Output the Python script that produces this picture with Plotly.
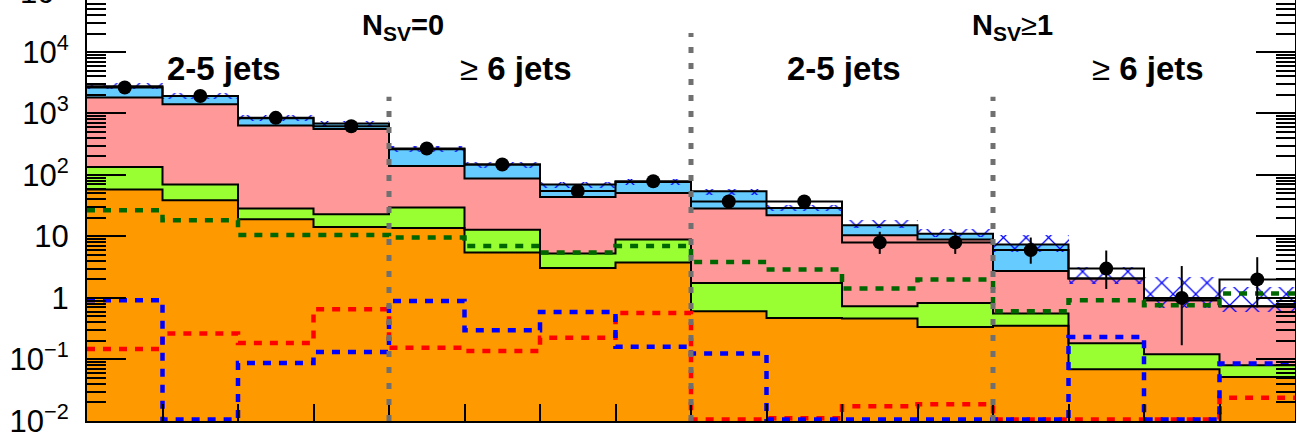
import numpy as np
import plotly.graph_objects as go

# ---------------- data ----------------
bin_index = list(range(16))
bin_edges = list(range(17))

# stacked backgrounds, bottom to top (events per bin)
bkg_orange = [57.9, 38.8, 19.1, 14.3, 13.7, 5.47, 3.07, 3.76, 0.608, 0.473, 0.462, 0.337, 0.351, 0.0693, 0.0693, 0.0519]
bkg_green = [77.0, 31.0, 9.35, 8.7, 15.8, 7.43, 2.20, 5.15, 1.14, 1.28, 0.271, 0.493, 0.206, 0.113, 0.0524, 0.0287]
bkg_pink = [1680, 1342, 607, 537, 110.5, 74.5, 38.6, 42.1, 26.65, 20.35, 9.77, 8.08, 2.19, 1.89, 0.796, 0.652]
bkg_blue = [953, 514, 200, 125, 122, 60.2, 25.9, 25.9, 25.9, 7.0, 4.7, 2.19, 4.63, 0.0, 0.0, 0.0]

# total background uncertainty (absolute, up / down)
bkg_unc_up = [330, 229, 99, 82, 31, 17.6, 8.3, 9.2, 5.8, 3.1, 3.1, 2.3, 3.1, 1.12, 1.27, 0.78]
bkg_unc_dn = [293, 204, 88, 73, 28, 15.6, 7.4, 8.1, 7.5, 3.4, 1.6, 1.28, 1.78, 0.36, 0.22, 0.14]

# observed data
data_obs = [2640, 1930, 850, 620, 270, 148, 55, 79, 37, 37, 8, 8, 6, 3, 1, 2]
data_err_up = [51, 44, 29, 25, 16.4, 12.2, 8.5, 9.9, 7.1, 7.1, 3.9, 3.9, 3.6, 2.9, 2.3, 2.6]
data_err_dn = [51, 44, 29, 25, 16.4, 12.2, 7.4, 8.9, 6.1, 6.1, 2.8, 2.8, 2.4, 1.6, 0.83, 1.3]

# signal overlays (not stacked)
sig_darkgreen = [26.7, 18.3, 10.6, 10.6, 9.6, 7.0, 5.47, 7.0, 3.85, 2.90, 1.42, 1.99, 0.608, 0.918, 0.760, 1.18]
sig_red = [0.147, 0.264, 0.185, 0.655, 0.154, 0.137, 0.224, 0.570, 0.0105, 0.011, 0.0173, 0.0187, 0.0105, 0.0105, 0.0105, 0.0237]
sig_blue = [0.918, 0.0105, 0.0877, 0.1325, 0.893, 0.299, 0.591, 0.160, 0.125, 0.0105, 0.0105, 0.0105, 0.0105, 0.232, 0.0105, 0.0857]

ytick_vals = [0.01, 0.1, 1, 10, 100, 1000, 10000]
ytick_text = ["10<sup>\u22122</sup>", "10<sup>\u22121</sup>", "1", "10", "10<sup>2</sup>", "10<sup>3</sup>", "10<sup>4</sup>"]

# ---------------- derived ----------------
orange = np.array(bkg_orange)
green_c = orange + np.array(bkg_green)
pink_c = green_c + np.array(bkg_pink)
total = pink_c + np.array(bkg_blue)
centers = np.array(bin_index) + 0.5

FONT = "Liberation Sans, Arial, Helvetica, sans-serif"

def step(vals):
    v = list(vals)
    return bin_edges, v + [v[-1]]

fig = go.Figure()

# filled stack (overlay, tallest first)
for cum, col in [(total, "#66CCFF"), (pink_c, "#FF9999"), (green_c, "#99FF33"), (orange, "#FF9900")]:
    fig.add_trace(go.Bar(x=centers, y=cum, width=1.0, marker=dict(color=col, line=dict(width=0)),
                         hoverinfo="skip"))

# outlines
for cum in [total, pink_c, green_c, orange]:
    sx, sy = step(cum)
    fig.add_trace(go.Scatter(x=sx, y=sy, mode="lines", line=dict(color="black", width=2, shape="hv"),
                             hoverinfo="skip"))

# hatched uncertainty band
band_lo = total - np.array(bkg_unc_dn)
band_h = np.array(bkg_unc_up) + np.array(bkg_unc_dn)
fig.add_trace(go.Bar(x=centers, y=band_h, base=band_lo, width=1.0,
                     marker=dict(color="rgba(0,0,0,0)", line=dict(width=0),
                                 pattern=dict(shape="x", fgcolor="#0000FF", bgcolor="rgba(0,0,0,0)",
                                              size=16, solidity=0.15, fillmode="replace")),
                     hoverinfo="skip"))

# signal overlays
for vals, col in [(sig_darkgreen, "#006600"), (sig_red, "#FF0000"), (sig_blue, "#0000FF")]:
    sx, sy = step(vals)
    fig.add_trace(go.Scatter(x=sx, y=sy, mode="lines",
                             line=dict(color=col, width=4.5, shape="hv", dash="8px,8px"),
                             hoverinfo="skip"))

# data histogram line and points
sx, sy = step(data_obs)
fig.add_trace(go.Scatter(x=sx, y=sy, mode="lines", line=dict(color="black", width=2, shape="hv"),
                         hoverinfo="skip"))
fig.add_trace(go.Scatter(x=centers, y=data_obs, mode="markers",
                         marker=dict(color="black", size=14),
                         error_y=dict(type="data", symmetric=False, array=data_err_up,
                                      arrayminus=data_err_dn, color="black", thickness=2, width=0),
                         hoverinfo="skip"))

# separators
for xv, ytop in [(4, 0.770), (8, 0.9216), (12, 0.770)]:
    fig.add_shape(type="line", xref="x", yref="paper", x0=xv, x1=xv, y0=0, y1=ytop,
                  line=dict(color="#707070", width=5, dash="6px,10px"), layer="above")

ann = []
def label(x, y, text, size):
    ann.append(dict(x=x, y=y, xref="x", yref="paper", text=text, showarrow=False,
                    xanchor="center", yanchor="middle",
                    font=dict(family=FONT, size=size, color="black")))

SUB = '<sub><span style="font-size:21px">SV</span></sub>'
label(1.81, 0.838, "<b>2-5 jets</b>", 33)
label(5.68, 0.838, "\u2265 <b>6 jets</b>", 33)
label(10.02, 0.838, "<b>2-5 jets</b>", 33)
label(14.05, 0.838, "\u2265 <b>6 jets</b>", 33)
label(4.19, 0.936, "<b>N" + SUB + "=0</b>", 29)
label(12.26, 0.936, "<b>N" + SUB + "</b>\u2265<b>1</b>", 29)
ann.append(dict(x=-0.0149, y=1.0233, xref="paper", yref="paper", text="10<sup>5</sup>", showarrow=False,
                xanchor="right", yanchor="middle", font=dict(family=FONT, size=31, color="black")))

minor_vals = [m * 10.0 ** k for k in range(-2, 5) for m in range(2, 10)]

fig.update_layout(
    width=1296, height=433,
    margin=dict(l=87, r=1, t=0, b=12, autoexpand=False),
    plot_bgcolor="white", paper_bgcolor="white",
    barmode="overlay", bargap=0, showlegend=False,
    annotations=ann,
    xaxis=dict(range=[0, 16], tickvals=bin_edges, ticks="inside", ticklen=17, tickwidth=2,
               tickcolor="black", showticklabels=False, showline=True, linecolor="black",
               linewidth=2, showgrid=False, zeroline=False, mirror=False, automargin=False),
    yaxis=dict(type="log", range=[-2.002, 4.846], tickmode="array", tickvals=ytick_vals, ticktext=ytick_text,
               ticks="inside", ticklen=39, tickwidth=2, tickcolor="black",
               tickfont=dict(family=FONT, size=31, color="black"), ticklabelstandoff=10,
               ticklabeloverflow="allow", automargin=False,
               showline=True, linecolor="black", linewidth=2, mirror="ticks",
               showgrid=False, zeroline=False,
               minor=dict(tickmode="array", tickvals=minor_vals, ticks="inside", ticklen=19,
                          tickwidth=2, tickcolor="black", showgrid=False)),
)

fig.write_html("out.html", config={"displayModeBar": False},
               post_script="document.body.style.margin='0';document.body.style.overflow='hidden';")
